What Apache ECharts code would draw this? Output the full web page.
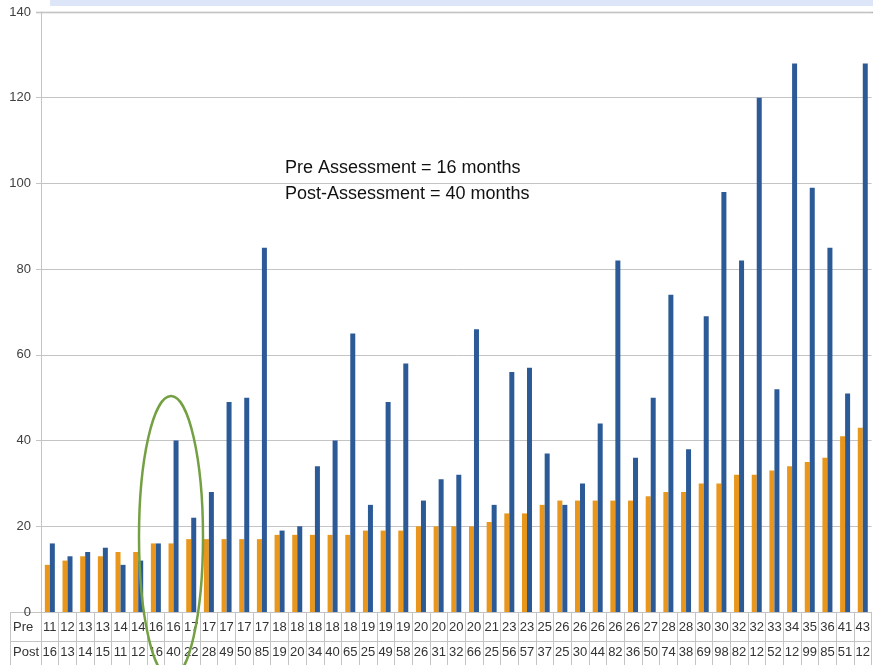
<!DOCTYPE html>
<html>
<head>
<meta charset="utf-8">
<script src="https://cdn.jsdelivr.net/npm/echarts@6/dist/echarts.min.js"></script>
<style>
  html, body { margin: 0; padding: 0; background: #fff; }
  #chart { width: 873px; height: 665px; }
</style>
</head>
<body>
<div id="chart"></div>
<script>
// ---- data ----
const rowNames = ['Pre', 'Post'];
const preValues = [11, 12, 13, 13, 14, 14, 16, 16, 17, 17, 17, 17, 17, 18, 18, 18, 18, 18, 19, 19, 19, 20, 20, 20, 20, 21, 23, 23, 25, 26, 26, 26, 26, 26, 27, 28, 28, 30, 30, 32, 32, 33, 34, 35, 36, 41, 43];
const postValues = [16, 13, 14, 15, 11, 12, 16, 40, 22, 28, 49, 50, 85, 19, 20, 34, 40, 65, 25, 49, 58, 26, 31, 32, 66, 25, 56, 57, 37, 25, 30, 44, 82, 36, 50, 74, 38, 69, 98, 82, 120, 52, 128, 99, 85, 51, 128];
const yMin = 0, yMax = 140, yStep = 20;
const annotationLines = ['Pre Assessment = 16 months', 'Post-Assessment = 40 months'];

const chart = echarts.init(document.getElementById('chart'), null, { renderer: 'canvas' });
const gridCol = '#c4c4c4';
const tableFont = 'Liberation Sans';

const option = {
  animation: false,
  backgroundColor: '#ffffff',
  grid: { left: 41, right: 1, top: 12, bottom: 53, containLabel: false },
  xAxis: [
    {
      type: 'category',
      data: preValues.map(String),
      position: 'bottom',
      axisLine: { show: true, lineStyle: { color: gridCol, width: 1 } },
      axisTick: { show: true, length: 54, interval: 0, lineStyle: { color: gridCol } },
      axisLabel: { interval: 0, margin: 9, fontFamily: tableFont, fontSize: 13, color: '#333' },
      splitLine: { show: false }
    },
    {
      type: 'category',
      data: postValues.map(String),
      position: 'bottom',
      offset: 29,
      axisLine: { show: true, lineStyle: { color: gridCol, width: 1 } },
      axisTick: { show: false },
      axisLabel: { interval: 0, margin: 5, fontFamily: tableFont, fontSize: 13, color: '#333',
                   width: 16, overflow: 'truncate', ellipsis: '' },
      splitLine: { show: false }
    }
  ],
  yAxis: {
    type: 'value',
    min: yMin, max: yMax, interval: yStep,
    axisLine: { show: true, lineStyle: { color: gridCol } },
    axisTick: { show: true, length: 5, lineStyle: { color: gridCol } },
    axisLabel: { margin: 10, fontFamily: tableFont, fontSize: 13, color: '#404040' },
    splitLine: { show: true, lineStyle: { color: gridCol, width: 1 } }
  },
  series: [
    {
      name: rowNames[0], type: 'bar', xAxisIndex: 0, data: preValues,
      barWidth: 5, barGap: '0%',
      itemStyle: { color: '#E8961C' }
    },
    {
      name: rowNames[1], type: 'bar', xAxisIndex: 0, data: postValues,
      barWidth: 5, barGap: '0%',
      itemStyle: { color: '#2C5A96' }
    }
  ],
  graphic: [
    // light blue band at the very top
    { type: 'rect', left: 50, top: 0, shape: { width: 823, height: 6 }, style: { fill: '#DCE6F8' }, silent: true },
    // slightly heavier top gridline
    { type: 'line', shape: { x1: 36, y1: 12.5, x2: 873, y2: 12.5 }, style: { stroke: '#b0b0b0', lineWidth: 1.5 }, silent: true },
    // left header cells of the data table
    { type: 'line', shape: { x1: 10.5, y1: 612, x2: 10.5, y2: 665 }, style: { stroke: gridCol, lineWidth: 1 } },
    { type: 'line', shape: { x1: 10, y1: 612.5, x2: 41, y2: 612.5 }, style: { stroke: gridCol, lineWidth: 1 } },
    { type: 'line', shape: { x1: 10, y1: 641.5, x2: 41, y2: 641.5 }, style: { stroke: gridCol, lineWidth: 1 } },
    { type: 'text', left: 13, top: 621, style: { text: rowNames[0], font: '13px "Liberation Sans"', fill: '#333' } },
    { type: 'text', left: 13, top: 646, style: { text: rowNames[1], font: '13px "Liberation Sans"', fill: '#333' } },
    // annotation
    { type: 'text', left: 285, top: 159, style: { text: annotationLines[0], font: '18px "Liberation Sans"', fill: '#111' } },
    { type: 'text', left: 285, top: 185, style: { text: annotationLines[1], font: '18px "Liberation Sans"', fill: '#111' } },
    // green highlight ellipse
    { type: 'ellipse', shape: { cx: 171, cy: 537, rx: 32, ry: 141 },
      style: { fill: 'none', stroke: '#74A043', lineWidth: 2.5 }, z: 100 }
  ]
};
chart.setOption(option);
</script>
</body>
</html>
